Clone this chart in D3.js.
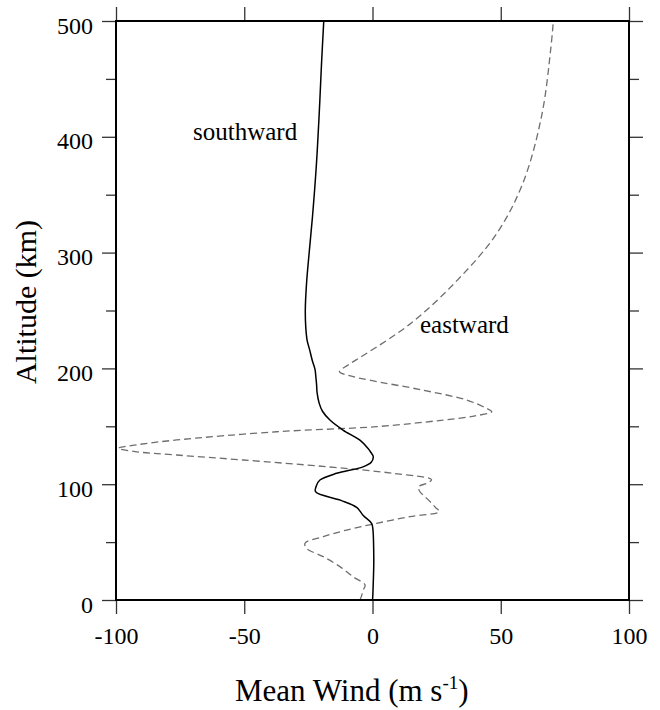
<!DOCTYPE html>
<html>
<head>
<meta charset="utf-8">
<script src="https://cdn.jsdelivr.net/npm/d3@7"></script>
<style>
  html, body { margin: 0; padding: 0; background: #fff; }
  svg { display: block; }
  text { font-family: "Liberation Serif", "Times New Roman", serif; fill: #000; }
</style>
</head>
<body>
<svg id="chart" width="660" height="710"></svg>
<script>
// ---- Data (altitude in km, wind in m/s) ----
const southAlt = [0, 3, 15, 32, 50, 60, 66, 73, 80, 86, 93.5, 99, 103.6, 109.4, 115, 119, 123.7, 128, 131, 138, 146.8, 155.4, 163, 170, 179, 186, 193, 199, 207, 216, 224.5, 235, 250, 274, 302, 331, 375, 419, 462, 500];
const southWind = [0, 0.1, 0.3, 0.5, 0.4, 0.2, -0.3, -3.6, -6.2, -12.3, -22.2, -21.8, -20.5, -14, -3.7, -0.5, 0.3, -0.8, -1.8, -4.9, -11.5, -16.6, -19.5, -20.8, -21.6, -21.8, -22.1, -22.4, -23.5, -24.5, -25.5, -26.0, -26.2, -25.7, -24.6, -23.4, -21.9, -20.8, -19.9, -19.0];

const eastAlt = [0, 4, 8.6, 13, 20, 28.8, 37.4, 44.6, 49, 54.7, 60.4, 66.2, 72, 76.3, 80, 83.5, 89.2, 93.5, 97.8, 101, 104, 109.4, 115.1, 120.9, 125.2, 128, 131, 134, 138.2, 145.3, 149.7, 155.4, 159, 162.6, 166, 172.7, 181.3, 190, 194, 197.2, 203, 212, 239, 276, 316.7, 361, 418.8, 476, 500];
const eastWind = [-4.9, -4.2, -3.6, -2.9, -7.5, -12.7, -19.2, -25.7, -26.3, -19.2, -10.1, 1.6, 14.6, 26.0, 24.5, 23.1, 20.5, 18.5, 17.9, 21.5, 23.0, 8.1, -17.9, -50.4, -76.3, -92, -99.1, -92, -76.3, -37.4, 1.6, 27.6, 40, 46.5, 44, 36.7, 19.5, -1.5, -9.5, -12.9, -9.5, -3.0, 15.0, 33.0, 48.5, 58.8, 66.0, 69.5, 70.5];

const xTicks = [-100, -50, 0, 50, 100];
const xTickLabels = ["-100", "-50", "0", "50", "100"];
const yTicks = [0, 100, 200, 300, 400, 500];
const yTickLabels = ["0", "100", "200", "300", "400", "500"];
const yMinorTicks = [50, 150, 250, 350, 450];
const seriesLabels = ["southward", "eastward"];

// ---- Layout ----
const svg = d3.select("#chart");
const L = 116, R = 629, T = 21, B = 600;
const x = d3.scaleLinear().domain([-100, 100]).range([L, R]);
const y = d3.scaleLinear().domain([0, 500]).range([B, T]);

const tickColor = "#333";
const fmtX = (d) => xTickLabels[xTicks.indexOf(d)];
const fmtY = (d) => yTickLabels[yTicks.indexOf(d)];

function styleAxis(g) {
  g.select(".domain").remove();
  g.selectAll(".tick line").attr("stroke", tickColor).attr("stroke-width", 1.3);
  g.selectAll(".tick text").attr("font-size", 24).attr("font-family", "Liberation Serif, serif").attr("fill", "#000");
}

// bottom axis
svg.append("g").attr("transform", `translate(0,${B})`)
  .call(d3.axisBottom(x).tickValues(xTicks).tickFormat(fmtX).tickSize(14).tickPadding(13))
  .call(styleAxis);
// top axis (ticks only)
svg.append("g").attr("transform", `translate(0,${T})`)
  .call(d3.axisTop(x).tickValues(xTicks).tickFormat("").tickSize(14))
  .call(styleAxis);
// left axis
const gl = svg.append("g").attr("transform", `translate(${L},0)`)
  .call(d3.axisLeft(y).tickValues(yTicks).tickFormat(fmtY).tickSize(14).tickPadding(9))
  .call(styleAxis);
gl.selectAll(".tick text").attr("dy", "0.5em");
svg.append("g").attr("transform", `translate(${L},0)`)
  .call(d3.axisLeft(y).tickValues(yMinorTicks).tickFormat("").tickSize(10))
  .call(styleAxis);
// right axis
svg.append("g").attr("transform", `translate(${R},0)`)
  .call(d3.axisRight(y).tickValues(yTicks).tickFormat("").tickSize(14))
  .call(styleAxis);
svg.append("g").attr("transform", `translate(${R},0)`)
  .call(d3.axisRight(y).tickValues(yMinorTicks).tickFormat("").tickSize(10))
  .call(styleAxis);

// ---- Lines ----
const line = d3.line()
  .x(d => x(d[1]))
  .y(d => y(d[0]))
  .curve(d3.curveCatmullRom.alpha(0.5));

const southData = southAlt.map((a, i) => [a, southWind[i]]);
const eastData = eastAlt.map((a, i) => [a, eastWind[i]]);

svg.append("path").datum(eastData)
  .attr("d", line).attr("fill", "none")
  .attr("stroke", "#6e6e6e").attr("stroke-width", 1.3)
  .attr("stroke-dasharray", "7,4");

svg.append("path").datum(southData)
  .attr("d", line).attr("fill", "none")
  .attr("stroke", "#000").attr("stroke-width", 1.5);

// frame
svg.append("rect").attr("x", L).attr("y", T).attr("width", R - L).attr("height", B - T)
  .attr("fill", "none").attr("stroke", "#000").attr("stroke-width", 2);

// ---- Labels ----
svg.append("text").attr("x", 193).attr("y", 140).attr("font-size", 25).text(seriesLabels[0]);
svg.append("text").attr("x", 420).attr("y", 333).attr("font-size", 25).text(seriesLabels[1]);

svg.append("text")
  .attr("transform", "translate(36,302) rotate(-90)")
  .attr("text-anchor", "middle").attr("font-size", 30)
  .text("Altitude (km)");

const xt = svg.append("text").attr("x", 235).attr("y", 701).attr("font-size", 31);
xt.append("tspan").text("Mean Wind (m s");
xt.append("tspan").attr("font-size", 19).attr("dy", -12).text("-1");
xt.append("tspan").attr("dy", 12).text(")");
</script>
</body>
</html>
